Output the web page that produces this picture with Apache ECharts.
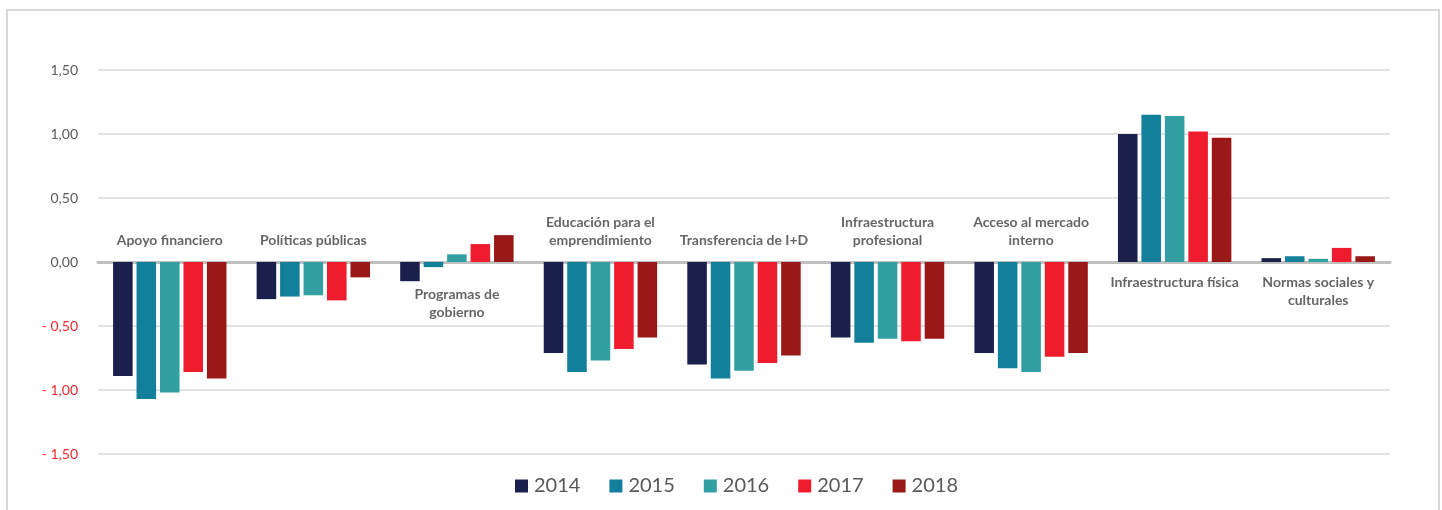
<!DOCTYPE html>
<html>
<head>
<meta charset="utf-8">
<script src="https://cdn.jsdelivr.net/npm/echarts@6/dist/echarts.min.js"></script>
<style>
  html, body { margin: 0; padding: 0; background: #ffffff; }
  #chart { width: 1442px; height: 510px; }
</style>
</head>
<body>
<div id="chart"></div>
<script>
// Pillars of the entrepreneurial ecosystem, score per year
const categories = [
  'Apoyo financiero',
  'Políticas públicas',
  'Programas de\ngobierno',
  'Educación para el\nemprendimiento',
  'Transferencia de I+D',
  'Infraestructura\nprofesional',
  'Acceso al mercado\ninterno',
  'Infraestructura física',
  'Normas sociales y\nculturales'
];
const years = ['2014', '2015', '2016', '2017', '2018'];
const v2014 = [-0.89, -0.29, -0.15, -0.71, -0.80, -0.59, -0.71, 1.00, 0.03];
const v2015 = [-1.07, -0.27, -0.04, -0.86, -0.91, -0.63, -0.83, 1.15, 0.045];
const v2016 = [-1.02, -0.26, 0.06, -0.77, -0.85, -0.60, -0.86, 1.14, 0.025];
const v2017 = [-0.86, -0.30, 0.14, -0.68, -0.79, -0.62, -0.74, 1.02, 0.11];
const v2018 = [-0.91, -0.12, 0.21, -0.59, -0.73, -0.60, -0.71, 0.97, 0.045];
const yTicks = [-1.5, -1.0, -0.5, 0, 0.5, 1.0, 1.5];

const seriesValues = [v2014, v2015, v2016, v2017, v2018];
const colors = ['#1b1f4c', '#127f9b', '#32a0a3', '#ee1c2c', '#9a1818'];

function fmtTick(v) {
  const s = Math.abs(v).toFixed(2).replace('.', ',');
  return v < 0 ? '- ' + s : s;
}

// Category names sit next to the zero line: above when the bars go down,
// below (under the lowest bar) when the bars mostly go up.
const labelPoints = categories.map((name, i) => {
  const vals = seriesValues.map(s => s[i]);
  const mn = Math.min(...vals), mx = Math.max(...vals);
  const below = mx > Math.abs(mn);
  const anchor = below ? Math.min(0, mn) : 0;
  return {
    value: [i, anchor],
    label: {
      position: below ? 'bottom' : 'top',
      distance: below ? (anchor < 0 ? 4 : 11) : 13
    }
  };
});

const barSeries = years.map((y, k) => ({
  name: y,
  type: 'bar',
  data: seriesValues[k],
  itemStyle: { color: colors[k] },
  barGap: '20%',
  barCategoryGap: '21%',
  z: 2
}));

const chart = echarts.init(document.getElementById('chart'), null, { renderer: 'canvas' });
chart.setOption({
  backgroundColor: '#ffffff',
  animation: false,
  color: colors,
  graphic: [{
    type: 'rect',
    shape: { x: 7, y: 10, width: 1432, height: 520 },
    style: { fill: 'none', stroke: '#d9d9d9', lineWidth: 2 },
    silent: true,
    z: -10
  }],
  grid: { left: 98, right: 52, top: 70, bottom: 56, containLabel: false },
  legend: {
    data: years,
    left: 510,
    top: 471,
    itemWidth: 13,
    itemHeight: 13,
    itemGap: 29,
    icon: 'rect',
    textStyle: { fontFamily: 'Lato', fontSize: 20, color: '#595959', padding: [0, 0, 0, 1] }
  },
  xAxis: {
    type: 'category',
    data: categories,
    axisLine: { show: true, onZero: true, lineStyle: { color: '#bfbfbf', width: 3 } },
    axisTick: { show: false },
    axisLabel: { show: false },
    splitLine: { show: false }
  },
  yAxis: {
    type: 'value',
    min: yTicks[0],
    max: yTicks[yTicks.length - 1],
    interval: 0.5,
    axisLine: { show: false },
    axisTick: { show: false },
    splitLine: { show: true, lineStyle: { color: '#d9d9d9', width: 1.5 } },
    axisLabel: {
      margin: 20,
      fontFamily: 'Lato',
      fontSize: 14,
      color: v => (v < 0 ? '#f0282d' : '#595959'),
      formatter: v => fmtTick(v)
    }
  },
  series: barSeries.concat([{
    name: 'categorias',
    type: 'scatter',
    symbolSize: 0,
    silent: true,
    z: 5,
    data: labelPoints,
    label: {
      show: true,
      formatter: p => categories[p.value[0]],
      fontFamily: 'Lato',
      fontWeight: 'bold',
      fontSize: 14,
      lineHeight: 18,
      color: '#3f3f3f',
      align: 'center'
    }
  }])
});
</script>
</body>
</html>
